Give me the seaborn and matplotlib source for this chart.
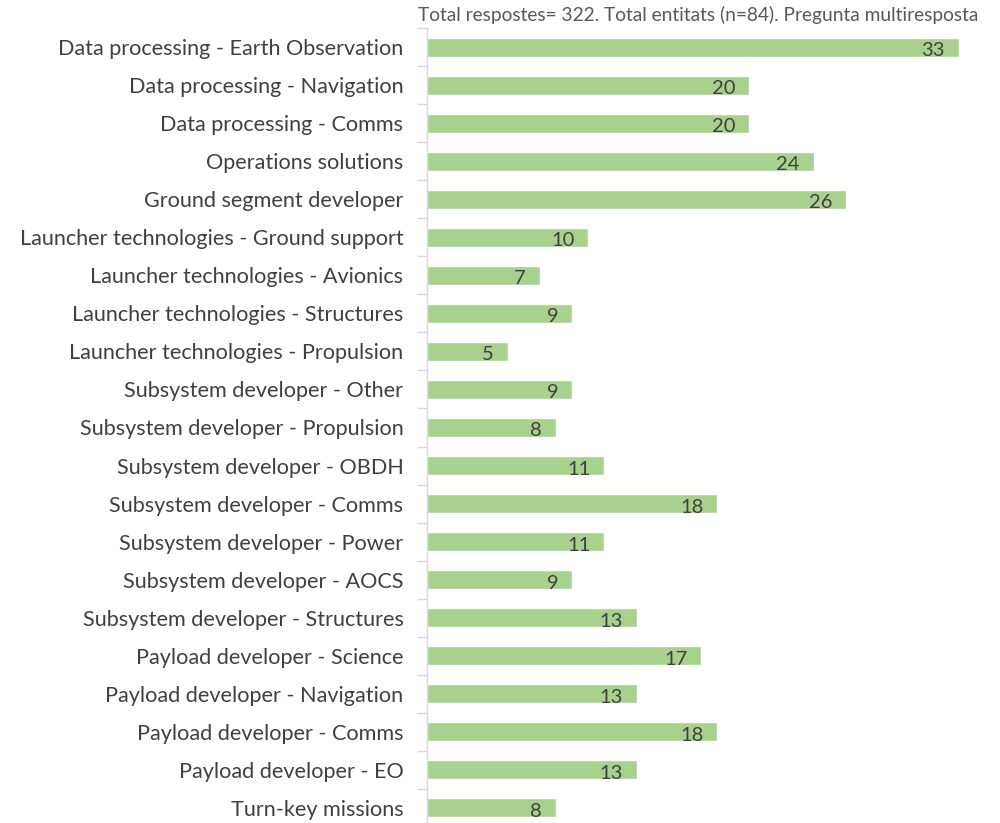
import matplotlib
matplotlib.use("Agg")
import matplotlib.pyplot as plt
import seaborn as sns
import pandas as pd

categories = [
    "Data processing - Earth Observation",
    "Data processing - Navigation",
    "Data processing - Comms",
    "Operations solutions",
    "Ground segment developer",
    "Launcher technologies - Ground support",
    "Launcher technologies - Avionics",
    "Launcher technologies - Structures",
    "Launcher technologies - Propulsion",
    "Subsystem developer - Other",
    "Subsystem developer - Propulsion",
    "Subsystem developer - OBDH",
    "Subsystem developer - Comms",
    "Subsystem developer - Power",
    "Subsystem developer - AOCS",
    "Subsystem developer - Structures",
    "Payload developer - Science",
    "Payload developer - Navigation",
    "Payload developer - Comms",
    "Payload developer - EO",
    "Turn-key missions",
]
values = [33, 20, 20, 24, 26, 10, 7, 9, 5, 9, 8, 11, 18, 11, 9, 13, 17, 13, 18, 13, 8]
note = "Total respostes= 322. Total entitats (n=84). Pregunta multiresposta"

sns.set_style("white")
plt.rcParams["font.family"] = ["Lato", "DejaVu Sans"]

df = pd.DataFrame({"cat": categories, "val": values})

fig = plt.figure(figsize=(10, 8.23), dpi=100)
W, H = 1000, 823
x0, x1 = 427, 995
ytop, ybot = 28, 827
ax = fig.add_axes([x0 / W, 1 - ybot / H, (x1 - x0) / W, (ybot - ytop) / H])

sns.barplot(data=df, y="cat", x="val", orient="h", color="#A9D18E",
            saturation=1, width=0.5, ax=ax)

ppu = 16.12
ax.set_xlim(0, (x1 - x0) / ppu)
ax.set_ylim(len(categories) - 0.5, -0.5)

text_col = "#404040"
for i, v in enumerate(values):
    ax.annotate(str(v), xy=(v, i), xytext=(-10, -2.5), textcoords="offset points",
                ha="right", va="center", fontsize=14.5, color=text_col)

for s in ["top", "right", "bottom"]:
    ax.spines[s].set_visible(False)
ax.spines["left"].set_color("#D9D9D9")
ax.spines["left"].set_linewidth(1)
ax.set_xticks([])
ax.set_xlabel("")
ax.set_ylabel("")
ax.tick_params(axis="y", which="major", left=False, length=0, pad=17,
               labelsize=15.6, labelcolor=text_col)
ax.set_yticks([i + 0.5 for i in range(-1, len(categories))], minor=True)
ax.tick_params(axis="y", which="minor", left=True, length=7, color="#D9D9D9", width=1)

fig.text(418 / W, 1 - 15 / H, note, ha="left", va="center", fontsize=13.8, color="#595959")

fig.savefig("out.png", dpi=100)
